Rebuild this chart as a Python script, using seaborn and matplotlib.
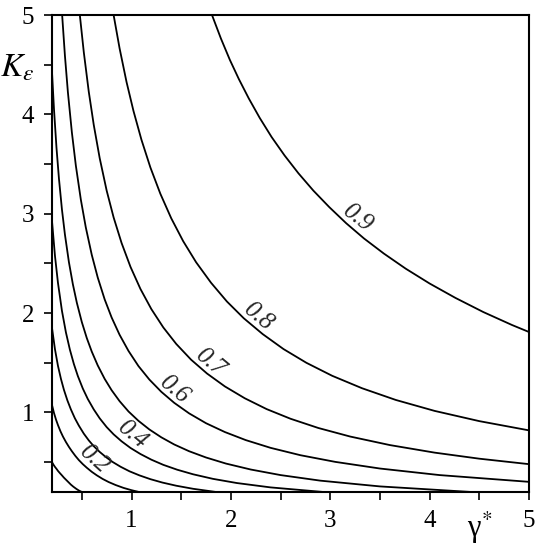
import matplotlib
matplotlib.use('Agg')
import matplotlib.pyplot as plt
import numpy as np
import pandas as pd
import seaborn as sns

# contour curves: gamma* (x) and K_eps (y) per level
g01 = [0.20, 0.215, 0.23, 0.245, 0.26, 0.28, 0.30, 0.32, 0.34, 0.365, 0.39, 0.415, 0.445, 0.47, 0.50]
k01 = [0.500, 0.474, 0.452, 0.433, 0.412, 0.389, 0.367, 0.344, 0.324, 0.299, 0.274, 0.253, 0.231, 0.215, 0.200]

g02 = [0.20, 0.22, 0.24, 0.26, 0.285, 0.31, 0.34, 0.37, 0.40, 0.435, 0.47, 0.51, 0.55, 0.60, 0.65,
       0.71, 0.77, 0.84, 0.92, 1.00, 1.075]
k02 = [1.075, 0.995, 0.929, 0.873, 0.811, 0.758, 0.703, 0.654, 0.610, 0.563, 0.521, 0.480, 0.444,
       0.403, 0.368, 0.331, 0.300, 0.270, 0.241, 0.218, 0.200]

g03 = [0.20, 0.23, 0.26, 0.29, 0.32, 0.355, 0.39, 0.43, 0.47, 0.52, 0.57, 0.62, 0.68, 0.74, 0.81,
       0.89, 0.98, 1.08, 1.19, 1.31, 1.45, 1.62, 1.85]
k03 = [1.85, 1.635, 1.469, 1.338, 1.228, 1.121, 1.031, 0.942, 0.868, 0.787, 0.719, 0.661, 0.603,
       0.553, 0.502, 0.454, 0.408, 0.367, 0.329, 0.295, 0.263, 0.232, 0.200]

g04 = [0.20, 0.23, 0.26, 0.30, 0.34, 0.38, 0.42, 0.46, 0.51, 0.56, 0.62, 0.68, 0.75, 0.82, 0.90,
       0.99, 1.09, 1.20, 1.32, 1.46, 1.62, 1.82, 2.06, 2.40, 2.93]
k04 = [2.925, 2.574, 2.304, 2.023, 1.806, 1.632, 1.488, 1.367, 1.241, 1.136, 1.031, 0.941, 0.853,
       0.780, 0.710, 0.643, 0.582, 0.525, 0.473, 0.424, 0.378, 0.332, 0.290, 0.246, 0.200]

g05 = [0.20, 0.22, 0.245, 0.27, 0.30, 0.33, 0.37, 0.41, 0.45, 0.50, 0.55, 0.60, 0.66, 0.73, 0.80,
       0.88, 0.97, 1.07, 1.18, 1.30, 1.43, 1.58, 1.75, 1.95, 2.20, 2.50, 2.90, 3.50, 4.42]
k05 = [4.425, 4.05, 3.665, 3.352, 3.043, 2.791, 2.514, 2.29, 2.104, 1.91, 1.749, 1.613, 1.474,
       1.338, 1.224, 1.114, 1.010, 0.916, 0.829, 0.75, 0.678, 0.610, 0.547, 0.486, 0.426, 0.370,
       0.314, 0.256, 0.200]

g06 = [0.302, 0.33, 0.36, 0.40, 0.44, 0.49, 0.54, 0.60, 0.66, 0.73, 0.80, 0.88, 0.97, 1.07, 1.18,
       1.30, 1.43, 1.58, 1.75, 1.94, 2.15, 2.40, 2.70, 3.05, 3.50, 4.10, 5.0]
k06 = [5.0, 4.591, 4.222, 3.818, 3.484, 3.143, 2.863, 2.587, 2.359, 2.138, 1.956, 1.782, 1.619,
       1.467, 1.331, 1.208, 1.097, 0.991, 0.892, 0.803, 0.722, 0.644, 0.570, 0.503, 0.436, 0.370,
       0.302]

g07 = [0.48, 0.52, 0.57, 0.62, 0.68, 0.75, 0.82, 0.90, 0.99, 1.09, 1.20, 1.32, 1.45, 1.60, 1.76,
       1.94, 2.14, 2.36, 2.60, 2.88, 3.20, 3.60, 4.05, 4.50, 5.0]
k07 = [5.0, 4.625, 4.228, 3.895, 3.559, 3.233, 2.963, 2.706, 2.465, 2.243, 2.04, 1.856, 1.69,
       1.531, 1.392, 1.262, 1.143, 1.034, 0.937, 0.844, 0.758, 0.672, 0.596, 0.535, 0.48]

g08 = [0.82, 0.88, 0.95, 1.02, 1.10, 1.19, 1.29, 1.40, 1.52, 1.65, 1.80, 1.96, 2.13, 2.32, 2.53,
       2.76, 3.02, 3.32, 3.66, 4.05, 4.50, 5.0]
k08 = [5.0, 4.665, 4.326, 4.034, 3.745, 3.466, 3.202, 2.954, 2.724, 2.512, 2.306, 2.117, 1.948,
       1.789, 1.638, 1.50, 1.369, 1.244, 1.126, 1.016, 0.913, 0.82]

g09 = [1.81, 1.90, 1.99, 2.08, 2.18, 2.29, 2.41, 2.54, 2.68, 2.83, 2.99, 3.16, 3.34, 3.54, 3.76,
       4.00, 4.26, 4.54, 4.83, 5.0]
k09 = [5.0, 4.763, 4.548, 4.356, 4.161, 3.965, 3.772, 3.587, 3.407, 3.233, 3.067, 2.905, 2.751,
       2.599, 2.447, 2.298, 2.153, 2.011, 1.880, 1.81]

levels = ['0.1', '0.2', '0.3', '0.4', '0.5', '0.6', '0.7', '0.8', '0.9']
curves = [(g01, k01), (g02, k02), (g03, k03), (g04, k04), (g05, k05),
          (g06, k06), (g07, k07), (g08, k08), (g09, k09)]

# inline labels
lab_text = ['0.2', '0.4', '0.6', '0.7', '0.8', '0.9']
lab_g = [0.55, 0.93, 1.36, 1.72, 2.2, 3.2]
lab_k = [0.445, 0.69, 1.15, 1.42, 1.88, 2.87]
lab_rot = [-42, -40, -40, -40, -40, -38]

rows = []
for lev, (g, k) in zip(levels, curves):
    for a, b in zip(g, k):
        rows.append({'gamma': a, 'K': b, 'level': lev})
df = pd.DataFrame(rows)

sns.set_style('ticks')
plt.rcParams['font.family'] = ['Liberation Serif', 'DejaVu Serif']
plt.rcParams['mathtext.fontset'] = 'stix'

fig = plt.figure(figsize=(5.44, 5.5), dpi=100)
ax = fig.add_axes([0.0956, 0.1055, 0.8768, 0.8672])

sns.lineplot(data=df, x='gamma', y='K', units='level', estimator=None,
             sort=False, color='black', lw=1.3, legend=False, ax=ax)

for t, gx, ky, r in zip(lab_text, lab_g, lab_k, lab_rot):
    ax.text(gx, ky, t, rotation=r, rotation_mode='anchor', ha='center',
            va='bottom', fontsize=18, style='italic')

ticks = np.arange(0.5, 5.01, 0.5)
xlabels = ['', '1', '', '2', '', '3', '', '4', 'γ$^{*}$', '5']
ylabels = ['', '1', '', '2', '', '3', '', '4', r'$K_{\varepsilon}$', '5']
ax.set_xticks(ticks)
ax.set_xticklabels(xlabels)
ax.set_yticks(ticks)
ax.set_yticklabels(ylabels)
ax.set_xlim(0.2, 5)
ax.set_ylim(0.2, 5)
ax.set_xlabel('')
ax.set_ylabel('')
ax.tick_params(direction='out', length=6, width=1.2, labelsize=18, pad=7,
               colors='black')
ax.get_xticklabels()[8].set_fontsize(22)
ax.get_yticklabels()[8].set_fontsize(24)
for s in ax.spines.values():
    s.set_linewidth(1.5)
    s.set_color('black')

fig.savefig('out.png', dpi=100)
